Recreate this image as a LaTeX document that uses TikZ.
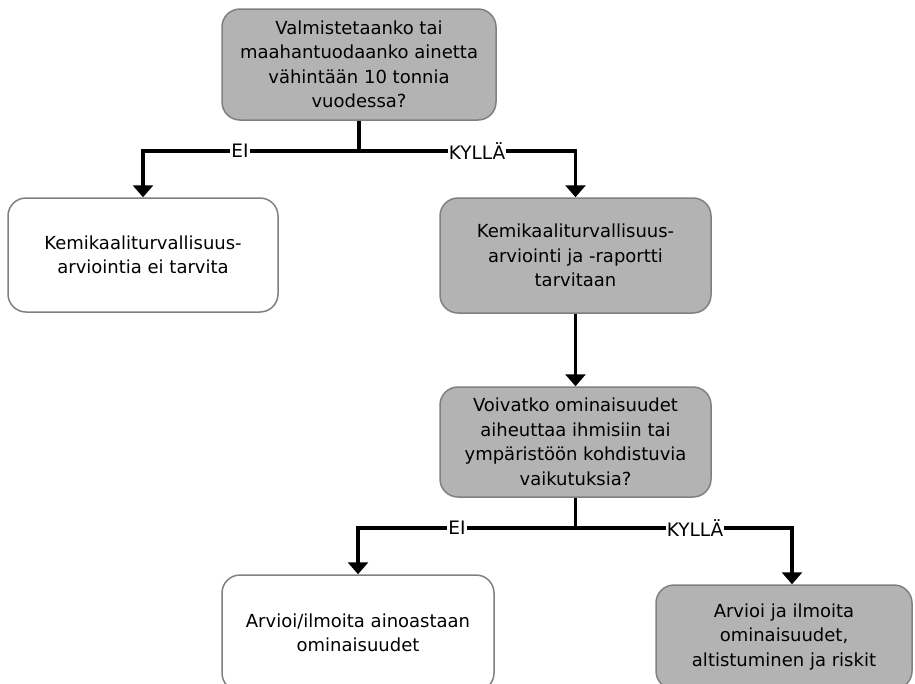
\documentclass[tikz,border=0pt]{standalone}
\usepackage{fontspec}
\setmainfont{DejaVu Sans}
\usetikzlibrary{arrows.meta}
\definecolor{boxgray}{RGB}{179,179,179}
\definecolor{edgegray}{RGB}{128,128,128}
\tikzset{
  flowbox/.style={draw=edgegray, line width=1.5pt, rounded corners=18pt,
    align=center, inner sep=0pt, font=\fontsize{18}{24.5}\selectfont},
  graybox/.style={flowbox, fill=boxgray},
  whitebox/.style={flowbox, fill=white},
  link/.style={line width=3.2pt, -{Triangle[width=20pt,length=12pt]}},
  plainlink/.style={line width=3.2pt},
  answer/.style={fill=white, inner sep=1pt, font=\fontsize{18.5}{21}\selectfont}
}
\begin{document}
\begin{tikzpicture}[x=1pt,y=-1pt]
\useasboundingbox (0,0) rectangle (915,683);
\clip (0,0) rectangle (915,683);

% question and outcome boxes
\node[graybox, minimum width=274pt, minimum height=111pt] (q1) at (359,64.5)
  {Valmistetaanko tai\\maahantuodaanko ainetta\\vähintään 10 tonnia\\vuodessa?};
\node[whitebox, minimum width=270pt, minimum height=114pt] (noneed) at (143,255)
  {Kemikaaliturvallisuus-\\arviointia ei tarvita};
\node[graybox, minimum width=271pt, minimum height=115pt] (need) at (575.5,255.5)
  {Kemikaaliturvallisuus-\\arviointi ja -raportti\\tarvitaan};
\node[graybox, minimum width=271pt, minimum height=110pt] (q2) at (575.5,442)
  {Voivatko ominaisuudet\\aiheuttaa ihmisiin tai\\ympäristöön kohdistuvia\\vaikutuksia?};
\node[whitebox, minimum width=272pt, minimum height=116pt] (props) at (358,633)
  {Arvioi/ilmoita ainoastaan\\ominaisuudet};
\node[graybox, minimum width=256pt, minimum height=104pt] (risks) at (784,637)
  {Arvioi ja ilmoita\\ominaisuudet,\\altistuminen ja riskit};

% branch points
\coordinate (j1) at (q1.south |- 0,151);
\coordinate (j2) at (q2.south |- 0,528);
\coordinate (riskin) at ([xshift=8pt]risks.north);

% connectors
\draw[plainlink] (q1.south) -- (j1);
\draw[link] (j1) -| (noneed.north);
\draw[link] (j1) -| (need.north);
\draw[link] (need.south) -- (q2.north);
\draw[plainlink] (q2.south) -- (j2);
\draw[link] (j2) -| (props.north);
\draw[link] (j2) -| (riskin);

% answer labels
\node[answer] (ei1) at (240,151) {EI};
\node[answer] (kylla1) at (477,151) {KYLLÄ};
\node[answer] (ei2) at (457,528) {EI};
\node[answer] (kylla2) at (695,528) {KYLLÄ};
\end{tikzpicture}
\end{document}
